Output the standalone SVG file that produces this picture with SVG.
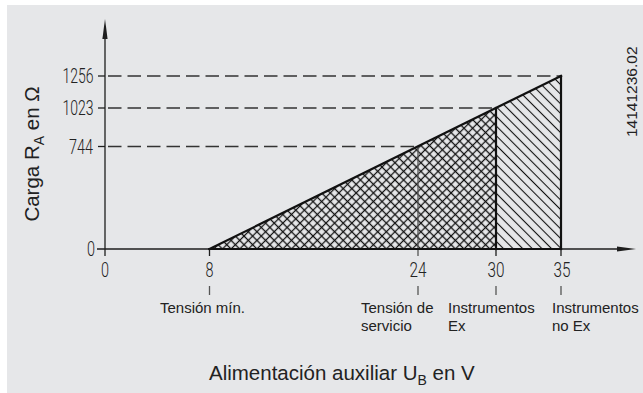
<svg xmlns="http://www.w3.org/2000/svg" width="643" height="393" viewBox="0 0 643 393">
  <style>
    .axis { stroke: #1e1e1e; stroke-width: 1.3; fill: none; }
    .thick { stroke: #111; stroke-width: 2.2; fill: none; stroke-linecap: square; }
    .thin { stroke: #555; stroke-width: 1.3; fill: none; }
    .dash { stroke: #333; stroke-width: 1.3; fill: none; stroke-dasharray: 13.5 6; }
    .num { font-family: Roboto, "Liberation Sans Narrow", "DejaVu Sans Condensed", sans-serif; font-weight: 300; font-size: 19.5px; fill: #222; }
    .lbl { font-family: "Liberation Sans", Arial, sans-serif; font-size: 15px; fill: #222; }
    .title { font-family: "Liberation Sans", Arial, sans-serif; font-size: 20.5px; fill: #222; }
    .code { font-family: "Liberation Sans", Arial, sans-serif; font-size: 15.5px; fill: #222; }
  </style>
  <defs>
    <pattern id="cross" patternUnits="userSpaceOnUse" width="6.1" height="6.1" patternTransform="translate(209.5,249) rotate(45)">
      <path d="M0 3.05H6.1M3.05 0V6.1" stroke="#111" stroke-width="1.25"/>
    </pattern>
    <pattern id="single" patternUnits="userSpaceOnUse" width="6.8" height="6.8" patternTransform="rotate(45)">
      <path d="M0 3.4H6.8" stroke="#111" stroke-width="1.1"/>
    </pattern>
  </defs>

  <rect id="background" x="7" y="5" width="636" height="388" fill="#e6e7e9"/>

  <g id="areas">
    <polygon id="area-cross" points="209.5,249 496,108 496,249" fill="url(#cross)"/>
    <polygon id="area-single" points="496,108 561,76 561,249 496,249" fill="url(#single)"/>
  </g>

  <g id="gridlines">
    <line class="dash" x1="108" y1="76" x2="561" y2="76"/>
    <line class="dash" x1="108" y1="108" x2="496" y2="108"/>
    <line class="dash" x1="108" y1="146.5" x2="418" y2="146.5"/>
    <line class="thin" x1="418" y1="146.5" x2="418" y2="256"/>
  </g>

  <g id="axes">
    <line class="axis" x1="105" y1="256" x2="105" y2="37"/>
    <polygon points="105,19 102.4,39 107.6,39" fill="#1e1e1e"/>
    <line class="axis" x1="97" y1="249" x2="619" y2="249"/>
    <polygon points="636,249 617,246.4 617,251.6" fill="#1e1e1e"/>
    <line class="axis" x1="98" y1="76" x2="105" y2="76"/>
    <line class="axis" x1="98" y1="108" x2="105" y2="108"/>
    <line class="axis" x1="98" y1="146.5" x2="105" y2="146.5"/>
    <line class="axis" x1="209.5" y1="249" x2="209.5" y2="256"/>
    <line class="axis" x1="496" y1="249" x2="496" y2="256"/>
    <line class="axis" x1="561" y1="249" x2="561" y2="256"/>
  </g>

  <g id="outline">
    <line class="thick" x1="209.5" y1="249" x2="561" y2="76"/>
    <line class="thick" x1="209.5" y1="249" x2="561" y2="249"/>
    <line class="thick" x1="496" y1="108" x2="496" y2="249"/>
    <line class="thick" x1="561" y1="76" x2="561" y2="249"/>
  </g>

  <g id="y-labels">
    <text class="num" x="93.5" y="83" text-anchor="end" textLength="31" lengthAdjust="spacingAndGlyphs">1256</text>
    <text class="num" x="93.5" y="115" text-anchor="end" textLength="31" lengthAdjust="spacingAndGlyphs">1023</text>
    <text class="num" x="93" y="153.5" text-anchor="end" textLength="24" lengthAdjust="spacingAndGlyphs">744</text>
    <text class="num" x="95" y="256" text-anchor="end" textLength="8" lengthAdjust="spacingAndGlyphs">0</text>
  </g>

  <g id="x-labels">
    <text class="num" x="105" y="277" text-anchor="middle" textLength="8" lengthAdjust="spacingAndGlyphs">0</text>
    <text class="num" x="209.5" y="277" text-anchor="middle" textLength="8" lengthAdjust="spacingAndGlyphs">8</text>
    <text class="num" x="418" y="277" text-anchor="middle" textLength="17" lengthAdjust="spacingAndGlyphs">24</text>
    <text class="num" x="496" y="277" text-anchor="middle" textLength="17" lengthAdjust="spacingAndGlyphs">30</text>
    <text class="num" x="562" y="277" text-anchor="middle" textLength="17" lengthAdjust="spacingAndGlyphs">35</text>
  </g>

  <g id="markers">
    <line class="thin" x1="209.5" y1="286" x2="209.5" y2="295"/>
    <line class="thin" x1="418" y1="286" x2="418" y2="295"/>
    <line class="thin" x1="496" y1="286" x2="496" y2="295"/>
    <line class="thin" x1="561" y1="286" x2="561" y2="295"/>
  </g>

  <g id="descriptions">
    <text class="lbl" x="160" y="313">Tensión mín.</text>
    <text class="lbl" x="361" y="313">Tensión de</text>
    <text class="lbl" x="361" y="331">servicio</text>
    <text class="lbl" x="448" y="313">Instrumentos</text>
    <text class="lbl" x="448" y="331">Ex</text>
    <text class="lbl" x="552" y="313">Instrumentos</text>
    <text class="lbl" x="552" y="331">no Ex</text>
  </g>

  <g id="titles">
    <text class="title" x="209" y="380">Alimentación auxiliar U<tspan font-size="14" dy="5">B</tspan><tspan dy="-5"> en V</tspan></text>
    <text class="title" transform="translate(38.5,154) rotate(-90)" text-anchor="middle">Carga R<tspan font-size="14" dy="5">A</tspan><tspan dy="-5"> en Ω</tspan></text>
    <text class="code" transform="translate(636.5,137) rotate(-90)">14141236.02</text>
  </g>
</svg>
